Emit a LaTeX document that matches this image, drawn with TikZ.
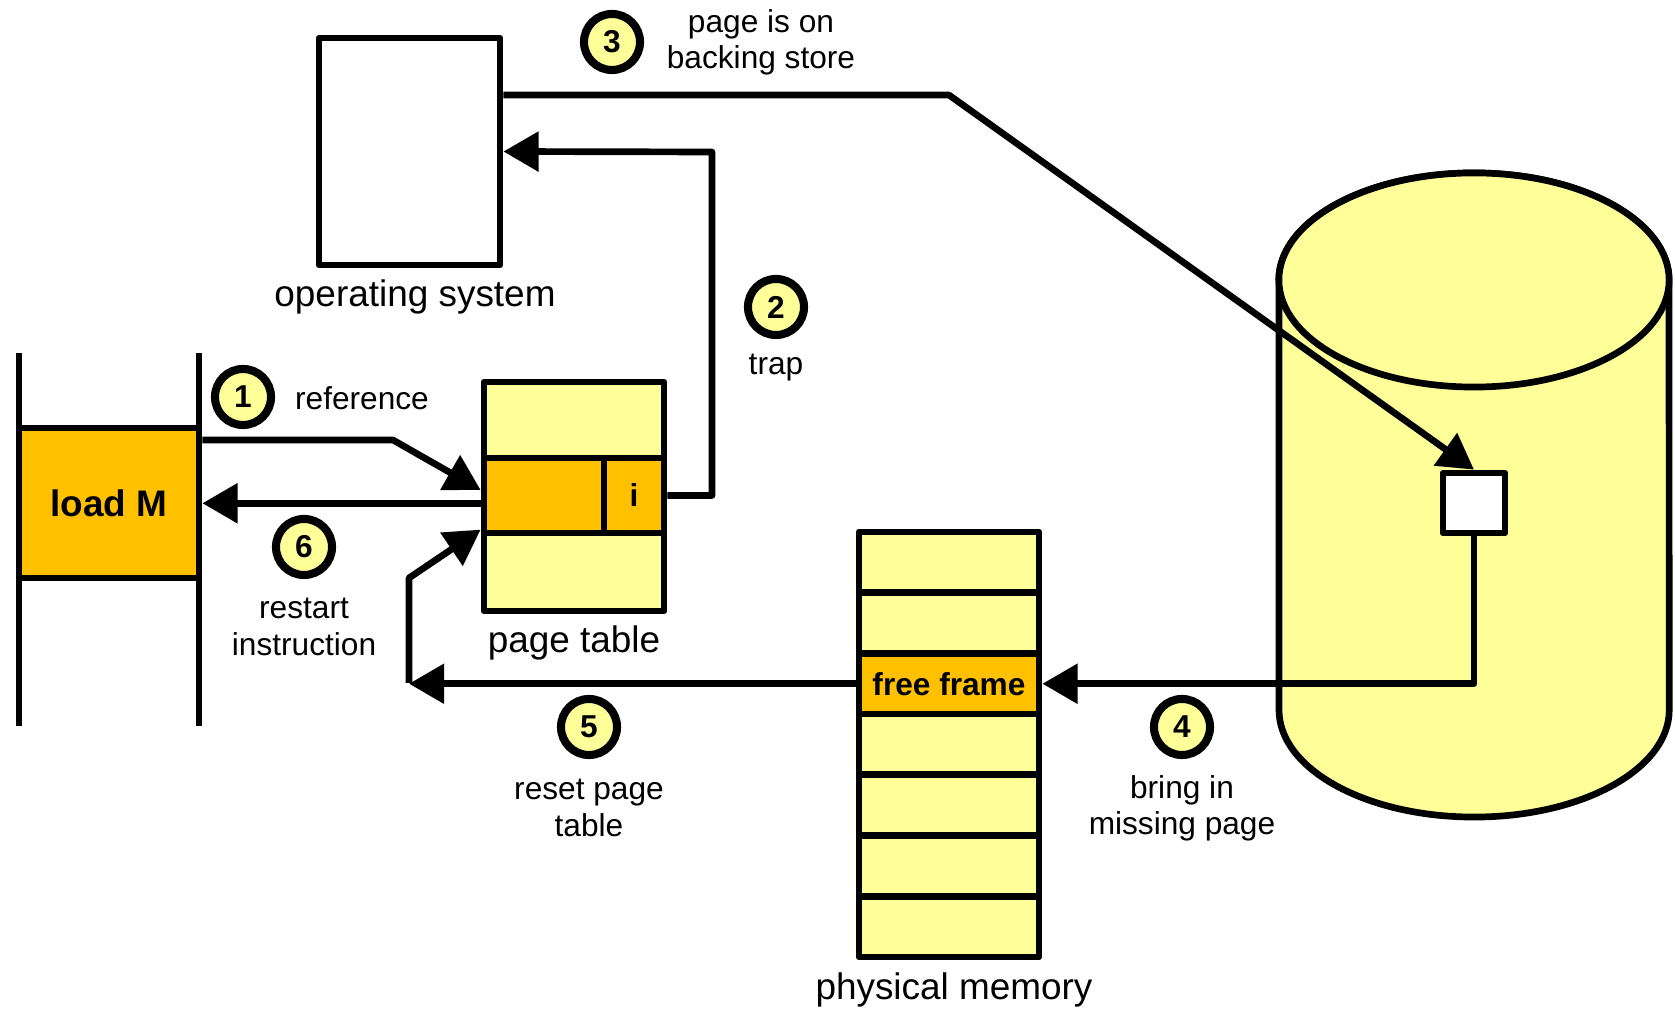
\documentclass[tikz,border=0pt]{standalone}
\usepackage{fontspec}
\setmainfont{Liberation Sans}
\usetikzlibrary{arrows.meta}
\definecolor{paleyellow}{HTML}{FFFF99}
\definecolor{amber}{HTML}{FFC000}

\begin{document}
\begin{tikzpicture}[x=0.01cm, y=-0.01cm,
    thickline/.style={line width=1.9pt, line join=round},
    cell/.style={draw, thickline, fill=paleyellow, inner sep=0pt, minimum width=1.8cm},
    flow/.style={thickline, -{Triangle[length=10pt, width=11pt]}},
    num/.style={circle, draw, line width=2.3pt, fill=paleyellow, minimum size=0.56cm, inner sep=0pt, font=\fontsize{9}{10}\selectfont\bfseries},
    lbl/.style={align=center, font=\fontsize{9}{10.3}\selectfont},
    biglbl/.style={font=\fontsize{10.5}{12}\selectfont}]
    \useasboundingbox (0,0) rectangle (1675,1010);

    % Stack with the faulting instruction
    \draw[thickline] (19,353) -- (19,726);
    \draw[thickline] (199,353) -- (199,726);
    \node[cell, fill=amber, minimum height=1.5cm, font=\fontsize{10.5}{12}\selectfont\bfseries] (loadm) at (109,503) {load M};

    % Operating system
    \node[cell, fill=white, minimum width=1.81cm, minimum height=2.27cm] (os) at (409.5,151.5) {};
    \node[biglbl] (los) at (415,297) {operating system};

    % Page table
    \node[cell, minimum height=0.76cm] (pttop) at (574,420) {};
    \node[cell, fill=amber, minimum width=1.2cm, minimum height=0.75cm] (ptmid) at (544,495.5) {};
    \node[cell, fill=amber, minimum width=0.6cm, minimum height=0.75cm, font=\fontsize{9}{10}\selectfont\bfseries] (pti) at (634,495.5) {i};
    \node[cell, minimum height=0.78cm] (ptbot) at (574,572) {};
    \node[biglbl] (lpt) at (574,643) {page table};

    % Physical memory frames
    \foreach \r in {0,...,6}
        \node[cell, minimum height=0.607cm] (pm\r) at (949,{562.35+60.7*\r}) {};
    \node[cell, fill=amber, minimum height=0.607cm, font=\fontsize{9}{10}\selectfont\bfseries] (free) at (pm2) {free frame};
    \node[biglbl] (lpm) at (954,990) {physical memory};

    % Backing store
    \draw[thickline, fill=paleyellow] (1279,280) -- (1279,710)
        arc[start angle=180, end angle=360, x radius=1.95cm, y radius=1.07cm] -- (1669,280)
        arc[start angle=0, end angle=180, x radius=1.95cm, y radius=1.07cm] -- cycle;
    \draw[thickline, fill=paleyellow] (1474,280) ellipse [x radius=1.95cm, y radius=1.07cm];
    \node[cell, fill=white, minimum width=0.62cm, minimum height=0.6cm] (blk) at (1474,503) {};

    % Step markers
    \node[num] (s1) at (243,397) {1};
    \node[num] (s2) at (776,307) {2};
    \node[num] (s3) at (612,42) {3};
    \node[num] (s4) at (1182,727) {4};
    \node[num] (s5) at (589,727) {5};
    \node[num] (s6) at (304,547) {6};

    \node[lbl] (lref) at (362,398) {reference};
    \node[lbl] (ltrap) at (776,368) {trap};
    \node[lbl] (l3) at (761,42) {page is on\\backing store};
    \node[lbl] (l4) at (1182,808) {bring in\\missing page};
    \node[lbl] (l5) at (589,808) {reset page\\table};
    \node[lbl] (l6) at (304,627) {restart\\instruction};

    % Connectors
    \coordinate (bend1) at (393,443);
    \coordinate (bend3) at (949,98);
    \coordinate (trapc) at (712,152);
    \coordinate (resetc) at (409,683);
    \coordinate (resetup) at (409,578);

    \draw[flow] (loadm.34) -- (loadm.34 -| bend1) -- (ptmid.175);
    \draw[flow] (pti.east) -| (trapc) -- (os.east);
    \draw[flow] (os.31) -- (os.31 -| bend3) -- (blk.north);
    \draw[flow] (blk.south) |- (free.east);
    \draw[flow] (free.west) -- (free.west -| resetc);
    \draw[flow] (resetc) -- (resetup) -- (ptbot.north west);
    \draw[flow] (ptmid.187) -- (ptmid.187 -| loadm.east);
\end{tikzpicture}
\end{document}
